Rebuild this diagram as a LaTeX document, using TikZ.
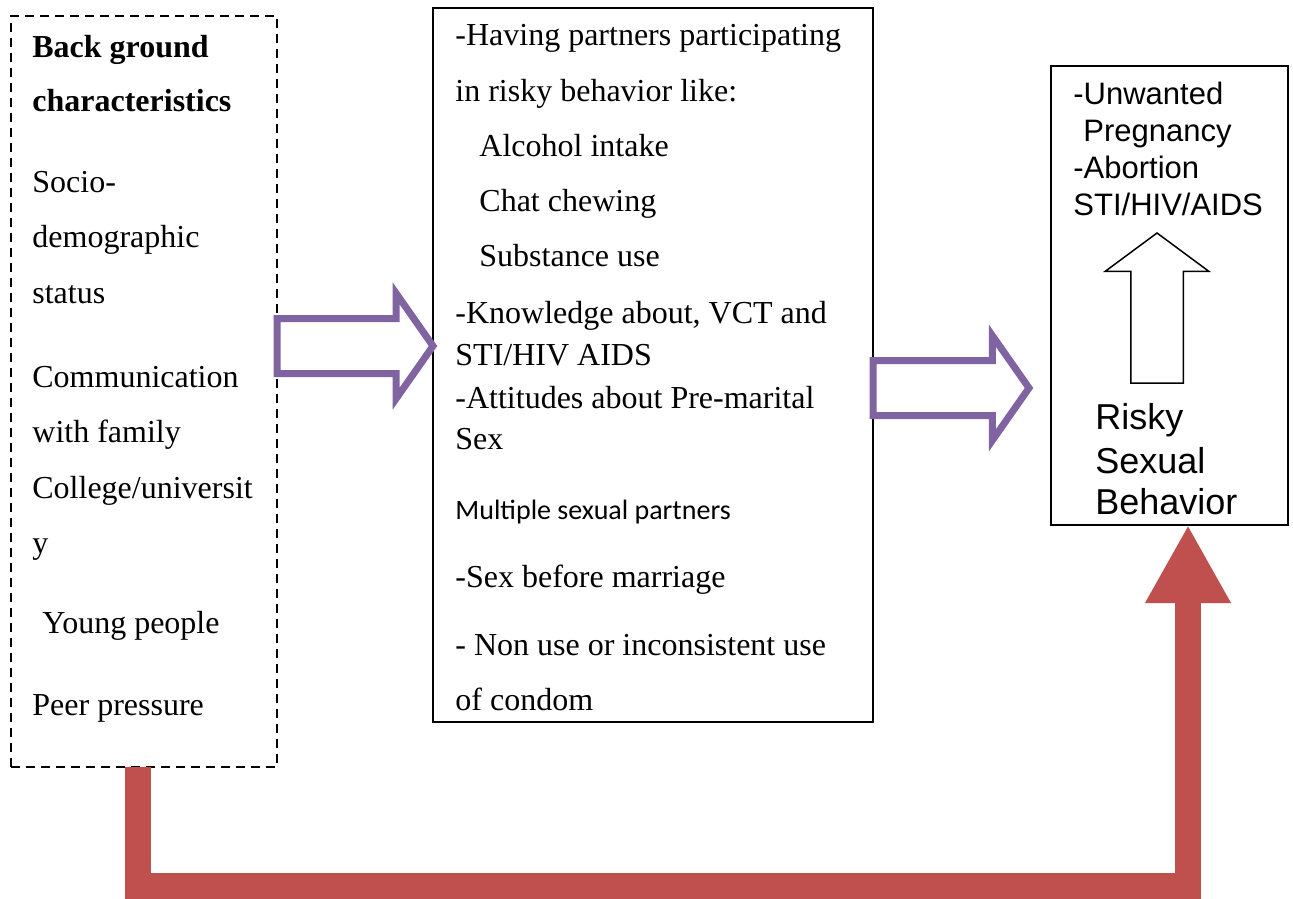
\documentclass[tikz,border=0pt]{standalone}
\usepackage{fontspec}
\setmainfont{Liberation Serif}
\setsansfont{Liberation Sans}
\newfontfamily\calibrifont{Carlito}
\usetikzlibrary{shapes.arrows,arrows.meta}
\definecolor{framepurple}{RGB}{128,100,162}
\definecolor{flowred}{RGB}{192,80,77}

\begin{document}
\begin{tikzpicture}[x=0.5pt,y=-0.5pt,
    box/.style={draw,line width=1pt,inner sep=0,outer sep=0},
    linetext/.style={anchor=base west,inner sep=0,font=\fontsize{16pt}{19pt}\selectfont},
    sanstext/.style={anchor=base west,inner sep=0,font=\sffamily\fontsize{15.5pt}{18pt}\selectfont},
    purplearrow/.style={single arrow,draw=framepurple,line width=3.5pt,outer sep=0,
        inner xsep=0,inner ysep=12pt,minimum width=0pt,minimum height=78pt,
        single arrow head extend=12.5pt,single arrow tip angle=110},
    whitearrow/.style={single arrow,draw,line width=0.75pt,outer sep=0,
        inner xsep=0,inner ysep=12.75pt,minimum width=0pt,minimum height=75pt,
        single arrow head extend=12.75pt,single arrow tip angle=107}]
\useasboundingbox (0,0) rectangle (1293,898);

% the three boxes
\node[box,line width=1.2pt,dash pattern=on 4.5pt off 3pt,minimum width=133pt,minimum height=375.5pt] (bg) at (144,391.5) {};
\node[box,minimum width=220pt,minimum height=357pt] (mid) at (653,365) {};
\node[box,minimum width=118.5pt,minimum height=229.5pt] (out) at (1169.5,295.5) {};

% background characteristics
\foreach \x/\y/\t [count=\i] in {32/58/{\textbf{Back ground}},32/112/{\textbf{characteristics}},
    32/193/{Socio-},32/248/{demographic},32/303/{status},32/387/{Communication},
    32/442/{with family},32/498/{College/universit},32/553/{y},42/633/{Young people},
    32/715/{Peer pressure}}
  \node[linetext] (bg\i) at (\x,\y) {\t};

% intermediate factors
\foreach \x/\y/\t [count=\i] in {455/46/{-Having partners participating},455/102/{in risky behavior like:},
    479/157/{Alcohol intake},479/212/{Chat chewing},479/267/{Substance use},
    455/323/{-Knowledge about, VCT and},455/365/{STI/HIV AIDS},
    455/408/{-Attitudes about Pre-marital},455/449/{Sex},
    455/587/{-Sex before marriage},455/655/{- Non use or inconsistent use},455/710/{of condom}}
  \node[linetext] (mid\i) at (\x,\y) {\t};
\node[linetext,font=\calibrifont\fontsize{14pt}{17pt}\selectfont] (midmsp) at (455,519) {Multiple sexual partners};

% outcomes
\foreach \x/\y/\t [count=\i] in {1073/105/{-Unwanted},1083/142/{Pregnancy},1073/179/{-Abortion},1073/216/{STI/HIV/AIDS}}
  \node[sanstext] (out\i) at (\x,\y) {\t};
\foreach \y/\t [count=\i] in {429/Risky,473/Sexual,514/Behavior}
  \node[sanstext,font=\sffamily\fontsize{18pt}{21pt}\selectfont] (risk\i) at (1095,\y) {\t};

% arrows
\node[purplearrow,anchor=tip] (arrA) at (mid.west |- 0,346) {};
\node[purplearrow,anchor=tail] (arrB) at (mid.east |- 0,388) {};
\node[whitearrow,rotate=90,anchor=tail] (upar) at (1157,383) {};
\draw[flowred,line width=13pt,line join=miter,-{Triangle[length=39pt,width=40pt]}]
    (bg.south -| 138,0) -- ++(0,119) -| (out.south -| 1188,0);
\end{tikzpicture}
\end{document}
